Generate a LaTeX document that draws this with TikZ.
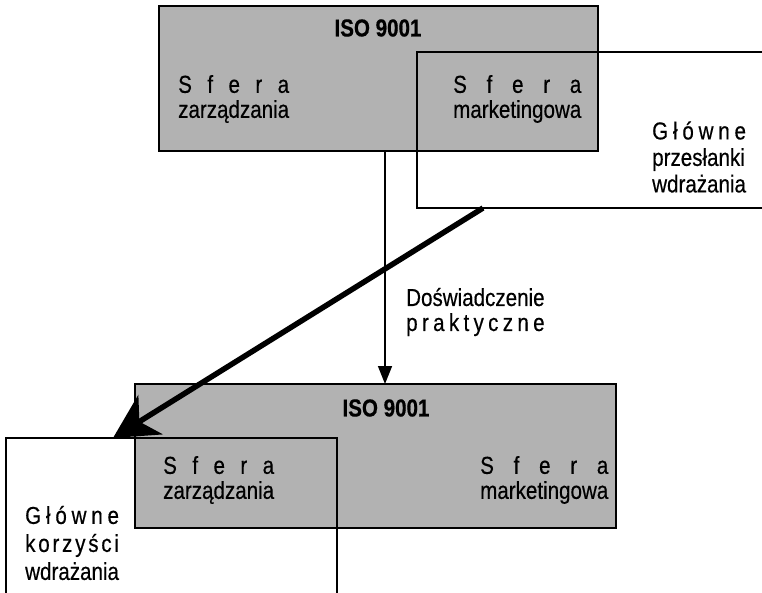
\documentclass[tikz,border=0pt]{standalone}
\usepackage{fontspec}
\setmainfont{Liberation Sans}[FakeStretch=0.84,FakeBold=0.4]
\newfontfamily\titlefont{Liberation Sans}[FakeStretch=0.84,FakeBold=0.6]
\usepackage{calc}
\usetikzlibrary{arrows.meta,calc}
% stretch a letter-spaced word to the width of a reference word
\newcommand\spreadline[2]{\makebox[\widthof{#1}][s]{#2}}
\definecolor{boxgray}{RGB}{178,178,178}

\begin{document}
\begin{tikzpicture}[x=1pt,y=-1pt,
  graybox/.style={draw=black,line width=1.5pt,fill=boxgray,anchor=north west,inner sep=0pt,outer sep=0pt},
  openbox/.style={draw=black,line width=1.5pt,anchor=north west,inner sep=0pt,outer sep=0pt},
  txt/.style={anchor=west,inner sep=0pt,align=left,font=\fontsize{24.5}{25}\selectfont},
  isotitle/.style={inner sep=0pt,font=\titlefont\bfseries\fontsize{24.5}{25}\selectfont},
  thinarrow/.style={line width=1.5pt,-{Triangle[length=18pt,width=14pt]}},
  thickarrow/.style={line width=5.5pt,-{Stealth[length=44pt,width=46pt,inset=13pt]}}]

\clip (0,0) rectangle (762,592);

% frames
\node[graybox,minimum width=439pt,minimum height=145pt] (topgray) at (159,6) {};
\node[openbox,minimum width=360pt,minimum height=156pt] (topopen) at (417,52) {};
\node[graybox,minimum width=481pt,minimum height=144pt] (botgray) at (135,384) {};
\node[openbox,minimum width=331pt,minimum height=170pt] (botopen) at (6,438) {};

% upper block texts
\node[isotitle] (toptitle) at (378,28) {ISO 9001};
\node[txt] (topmgmt) at (178,99) {\spreadline{zarządzania}{S\hfill f\hfill e\hfill r\hfill a}\\zarządzania};
\node[txt] (topmkt) at (453,99) {\spreadline{marketingowa}{S\hfill f\hfill e\hfill r\hfill a}\\marketingowa};
\node[txt,font=\fontsize{24.5}{26.5}\selectfont] (premises) at (652,157)
  {\spreadline{wdrażania}{G\hfill ł\hfill ó\hfill w\hfill n\hfill e}\\przesłanki\\wdrażania};

% middle label
\node[txt] (practice) at (406,312)
  {Doświadczenie\\\spreadline{Doświadczenie}{p\hfill r\hfill a\hfill k\hfill t\hfill y\hfill c\hfill z\hfill n\hfill e}};

% lower block texts
\node[isotitle] (bottitle) at (386,408) {ISO 9001};
\node[txt] (botmgmt) at (163,480) {\spreadline{zarządzania}{S\hfill f\hfill e\hfill r\hfill a}\\zarządzania};
\node[txt] (botmkt) at (480,480) {\spreadline{marketingowa}{S\hfill f\hfill e\hfill r\hfill a}\\marketingowa};
\node[txt,font=\fontsize{24.5}{28}\selectfont] (benefits) at (25,543)
  {\spreadline{wdrażania}{G\hfill ł\hfill ó\hfill w\hfill n\hfill e}\\\spreadline{wdrażania}{k\hfill o\hfill r\hfill z\hfill y\hfill ś\hfill c\hfill i}\\wdrażania};

% connectors
\coordinate (flowx) at (385,0);
\draw[thinarrow] (topgray.south -| flowx) -- (botgray.north -| flowx);
\coordinate (leadstart) at ($(topopen.south west)+(66,0)$);
\coordinate (leadend) at ($(botopen.north west)+(107,0)$);
\draw[thickarrow] (leadstart) -- (leadend);
\end{tikzpicture}
\end{document}
